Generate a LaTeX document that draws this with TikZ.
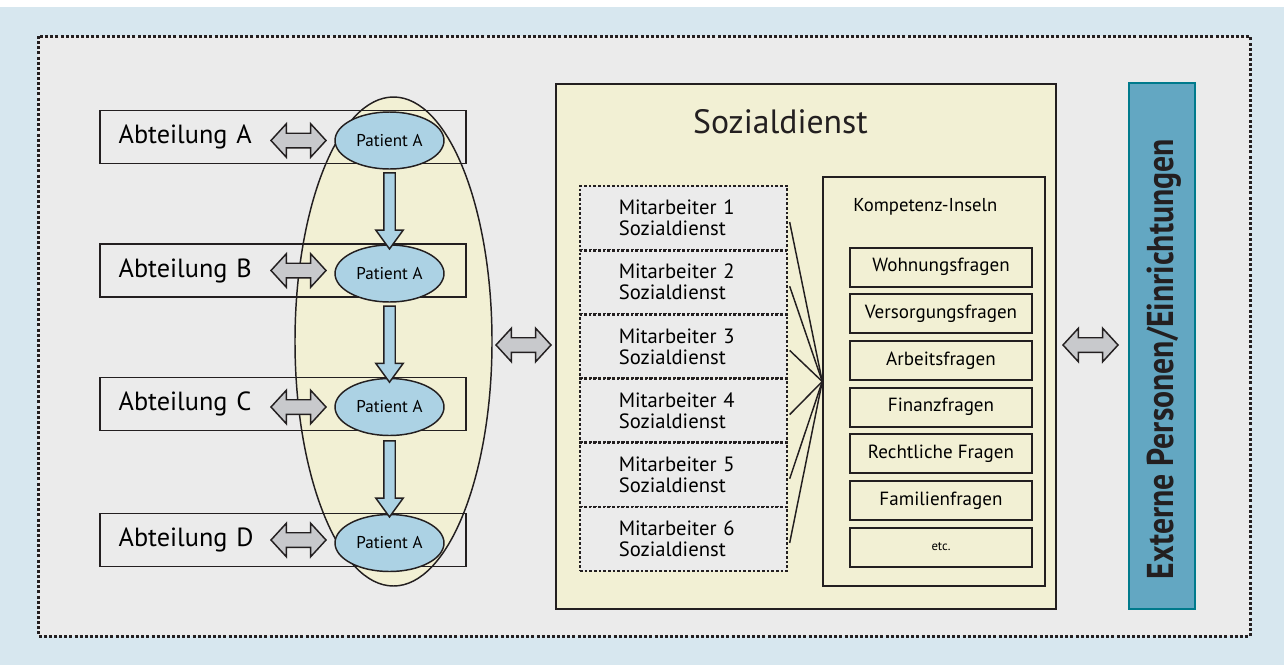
\documentclass[tikz,border=0pt]{standalone}
\usepackage{fontspec}
\setmainfont{PT Sans}
\usetikzlibrary{shapes.geometric,shapes.arrows,calc}
\definecolor{bgblue}{RGB}{215,231,239}
\definecolor{panel}{RGB}{235,235,235}
\definecolor{cream}{RGB}{242,240,212}
\definecolor{patblue}{RGB}{172,210,228}
\definecolor{arrgray}{RGB}{200,201,204}
\definecolor{extblue}{RGB}{99,167,194}
\definecolor{extline}{RGB}{0,122,140}
\definecolor{ink}{RGB}{35,31,32}

\begin{document}
\begin{tikzpicture}[x=0.75pt,y=-0.75pt,
  abtbox/.style={draw=ink,line width=1.1pt,minimum width=274.5pt,minimum height=39.75pt,
    text width=246.5pt,inner xsep=14pt,align=left,font=\fontsize{19.7}{22}\selectfont},
  patient/.style={ellipse,draw=ink,line width=1.1pt,fill=patblue,minimum width=81.75pt,
    minimum height=42.75pt,inner sep=0pt,font=\fontsize{12.8}{14}\selectfont},
  downarrow/.style={single arrow,draw=ink,line width=1.1pt,fill=patblue,rotate=-90,
    minimum height=57pt,single arrow head extend=6pt,single arrow tip angle=72,
    single arrow head indent=0pt,inner xsep=0pt,inner ysep=3.75pt},
  dblarrow/.style={double arrow,draw=ink,line width=1.1pt,fill=arrgray,
    minimum height=41.25pt,double arrow head extend=7.1pt,double arrow tip angle=95,
    double arrow head indent=0pt,inner xsep=0pt,inner ysep=4.9pt},
  mitbox/.style={draw=ink,line width=2pt,dash pattern=on 2pt off 1.5pt,fill=panel,
    minimum width=155.25pt,minimum height=48.1pt,text width=97pt,inner xsep=29pt,
    align=left,font=\fontsize{15.5}{15.75}\selectfont},
  frage/.style={draw=ink,line width=1.5pt,fill=cream,minimum width=136.5pt,
    minimum height=29.25pt,inner sep=0pt,font=\fontsize{14.3}{16}\selectfont}]

% background and outer frame
\useasboundingbox (0,0) rectangle (1284,665);
\fill[white] (0,0) rectangle (1284,665);
\fill[bgblue] (0,7) rectangle (1284,665);
\draw[ink,fill=panel,line width=2.25pt,dash pattern=on 2.25pt off 1.6pt] (38,36) rectangle (1250,636);

% patient track
\node[ellipse,draw=ink,line width=1.1pt,fill=cream,minimum width=147.75pt,
  minimum height=366.75pt,inner sep=0pt] (track) at (393.5,341.5) {};

\node[abtbox] (abtA) at (283,137) {Abteilung A};
\node[abtbox] (abtB) at (283,270.5) {Abteilung B};
\node[abtbox] (abtC) at (283,404) {Abteilung C};
\node[abtbox] (abtD) at (283,540) {Abteilung D};

\node[patient] (patA) at (389.5,140.5) {Patient A};
\node[patient] (patB) at (389.5,273.5) {Patient A};
\node[patient] (patC) at (389.5,407) {Patient A};
\node[patient] (patD) at (389.5,543) {Patient A};

\node[downarrow] at ($(patA.south)!0.5!(patB.north)$) {};
\node[downarrow] at ($(patB.south)!0.5!(patC.north)$) {};
\node[downarrow] at ($(patC.south)!0.5!(patD.north)$) {};

\node[dblarrow] at (298.5,140.5) {};
\node[dblarrow] at (298.5,270.5) {};
\node[dblarrow] at (298.5,407) {};
\node[dblarrow] at (298.5,540) {};

\node[dblarrow] at (523.5,345) {};

% Sozialdienst
\node[draw=ink,line width=1.1pt,fill=cream,minimum width=375pt,minimum height=393.75pt]
  (sozial) at (806,346.5) {};
\node[font=\fontsize{25.3}{28}\selectfont,text=ink] (titel) at (780.5,122) {Sozialdienst};

\node[draw=ink,line width=1.1pt,minimum width=166.5pt,minimum height=306.75pt]
  (komp) at (934,381.5) {};
\node[anchor=west,inner sep=0pt,font=\fontsize{14}{16}\selectfont] (kompt) at (853,207) {Kompetenz-Inseln};

\foreach \i in {1,...,6} {
  \node[mitbox] (mit\i) at (683.5,{186+32.08+64.17*(\i-1)}) {Mitarbeiter \i\\Sozialdienst};
  \draw[ink,line width=1.1pt] ([xshift=1pt,yshift=-3pt]mit\i.east) -- (komp.west);
}

\foreach \txt [count=\k from 0] in {Wohnungsfragen,Versorgungsfragen,Arbeitsfragen,
    Finanzfragen,Rechtliche Fragen,Familienfragen} {
  \node[frage] (frage\k) at (941,{267+46.7*\k}) {\txt};
}
\node[frage,font=\fontsize{9.5}{11}\selectfont] (frage6) at (941,547) {etc.};

% external
\node[dblarrow] at (1090.5,345) {};
\node[draw=extline,line width=1.1pt,fill=extblue,minimum width=49.5pt,minimum height=394.5pt]
  (extern) at (1162,346) {};
\node[rotate=90,text=ink,inner sep=0pt] (externt) at (1164,359)
  {\scalebox{0.85}[1]{\fontsize{28}{30}\selectfont\bfseries Externe Personen/Einrichtungen}};
\end{tikzpicture}
\end{document}
